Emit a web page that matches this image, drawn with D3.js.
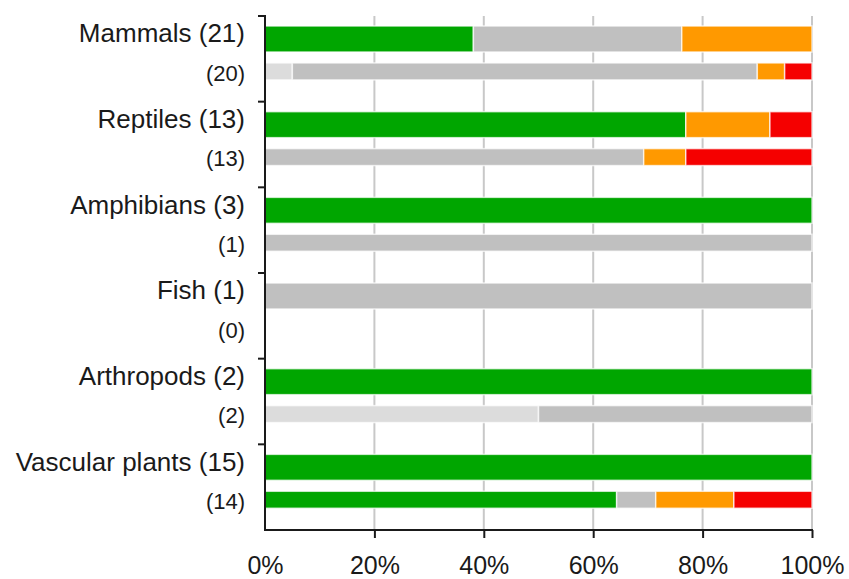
<!DOCTYPE html>
<html>
<head>
<meta charset="utf-8">
<script src="https://cdn.jsdelivr.net/npm/d3@7"></script>
<style>
  html, body { margin: 0; padding: 0; background: #fff; }
  svg { display: block; }
</style>
</head>
<body>
<svg id="chart" width="849" height="579"></svg>
<script>
// ---- Data ----
const groups = ["Mammals", "Reptiles", "Amphibians", "Fish", "Arthropods", "Vascular plants"];
const mainCounts = [21, 13, 3, 1, 2, 15];
const subCounts  = [20, 13, 1, 0, 2, 14];

const statusKeys = ["Favourable", "Unknown (no data)", "Unknown", "Unfavourable-inadequate", "Unfavourable-bad"];

// main row counts per status
const mainFavourable = [8, 10, 3, 0, 2, 15];
const mainNoData     = [0, 0, 0, 0, 0, 0];
const mainUnknown    = [8, 0, 0, 1, 0, 0];
const mainInadequate = [5, 2, 0, 0, 0, 0];
const mainBad        = [0, 1, 0, 0, 0, 0];

// sub row counts per status
const subFavourable = [0, 0, 0, 0, 0, 9];
const subNoData     = [1, 0, 0, 0, 1, 0];
const subUnknown    = [17, 9, 1, 0, 1, 1];
const subInadequate = [1, 1, 0, 0, 0, 2];
const subBad        = [1, 3, 0, 0, 0, 2];

const xTicks = [0, 0.2, 0.4, 0.6, 0.8, 1];

// ---- Styles ----
const colors = {
  "Favourable": "#00a600",
  "Unknown (no data)": "#dcdcdc",
  "Unknown": "#c0c0c0",
  "Unfavourable-inadequate": "#ff9900",
  "Unfavourable-bad": "#f50000"
};

function buildRows(arrs, counts, kind) {
  return groups.map((g, i) => {
    const row = { group: g, kind, total: counts[i] };
    statusKeys.forEach((k, j) => row[k] = counts[i] ? arrs[j][i] / counts[i] : 0);
    return row;
  });
}
const mainRows = buildRows([mainFavourable, mainNoData, mainUnknown, mainInadequate, mainBad], mainCounts, "main");
const subRows  = buildRows([subFavourable, subNoData, subUnknown, subInadequate, subBad], subCounts, "sub");

const svg = d3.select("#chart");
const x = d3.scaleLinear().domain([0, 1]).range([265, 812]);
const y = d3.scaleBand().domain(groups).range([16, 530]).padding(0);
const bw = y.bandwidth();
const rowPos = {
  main: { off: 0.117, h: 0.303 },
  sub:  { off: 0.548, h: 0.198 }
};

// grid lines
svg.append("g").selectAll("line")
  .data(xTicks.filter(d => d > 0))
  .join("line")
  .attr("x1", d => x(d)).attr("x2", d => x(d))
  .attr("y1", 16).attr("y2", 530)
  .attr("stroke", "#c8c8c8").attr("stroke-width", 2);

const stack = d3.stack().keys(statusKeys);

function drawRows(rows) {
  const series = stack(rows);
  svg.append("g").selectAll("g")
    .data(series)
    .join("g")
    .attr("fill", d => colors[d.key])
    .selectAll("rect")
    .data(d => d.filter(s => s[1] - s[0] > 0))
    .join("rect")
    .attr("x", d => x(d[0]))
    .attr("width", d => x(d[1]) - x(d[0]))
    .attr("y", d => y(d.data.group) + bw * rowPos[d.data.kind].off)
    .attr("height", d => bw * rowPos[d.data.kind].h)
    .attr("stroke", "#ffffff").attr("stroke-opacity", 0.7).attr("stroke-width", 1.5);
}
drawRows(mainRows);
drawRows(subRows);

// labels
const labelFont = "'Liberation Sans', Arial, sans-serif";
svg.append("g").selectAll("text")
  .data(mainRows)
  .join("text")
  .attr("x", 245)
  .attr("y", d => y(d.group) + bw * (rowPos.main.off + rowPos.main.h / 2))
  .attr("dy", "0.13em")
  .attr("text-anchor", "end")
  .attr("font-family", labelFont).attr("font-size", 26).attr("fill", "#1a1a1a")
  .text(d => `${d.group} (${d.total})`);

svg.append("g").selectAll("text")
  .data(subRows)
  .join("text")
  .attr("x", 245)
  .attr("y", d => y(d.group) + bw * (rowPos.sub.off + rowPos.sub.h / 2))
  .attr("dy", "0.42em")
  .attr("text-anchor", "end")
  .attr("font-family", labelFont).attr("font-size", 22).attr("fill", "#1a1a1a")
  .text(d => `(${d.total})`);

// left axis
const leftTicks = groups.map(g => y(g)).concat([y.range()[1]]);
const la = svg.append("g").attr("stroke", "#1a1a1a").attr("stroke-width", 2);
la.append("line").attr("x1", 265).attr("x2", 265).attr("y1", 15).attr("y2", 531);
la.selectAll("line.t").data(leftTicks.slice(0, -1)).join("line").attr("class", "t")
  .attr("x1", 258).attr("x2", 265).attr("y1", d => d).attr("y2", d => d);

// bottom axis
const xAxis = d3.axisBottom(x)
  .tickValues(xTicks)
  .tickFormat(d3.format(".0%"))
  .tickSize(8)
  .tickPadding(18);
const bx = svg.append("g").attr("transform", "translate(0,530)").call(xAxis);
bx.select(".domain").attr("stroke", "#1a1a1a").attr("stroke-width", 2).attr("d", `M${x(0)},0H${x(1) + 1}`);
bx.selectAll(".tick line").attr("stroke", "#1a1a1a").attr("stroke-width", 2);
bx.selectAll(".tick").filter(d => d === 0).select("line").remove();
bx.selectAll(".tick text").attr("font-family", labelFont).attr("font-size", 25).attr("fill", "#1a1a1a");
</script>
</body>
</html>
